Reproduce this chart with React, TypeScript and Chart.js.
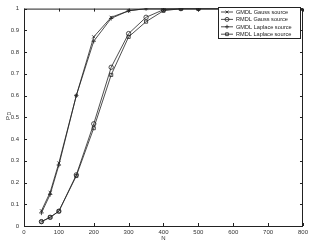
import React, { useEffect, useRef } from "react";
import { Chart, registerables } from "chart.js";
import { drawPoint } from "chart.js/helpers";
Chart.register(...registerables);

const N = [50, 75, 100, 150, 200, 250, 300, 350, 400, 450, 500, 600, 700, 800];
const gmdlGauss = [0.07, 0.155, 0.29, 0.6, 0.87, 0.96, 0.99, 1, 1, 1, 1, 1, 1, 1];
const rmdlGauss = [0.02, 0.04, 0.068, 0.235, 0.47, 0.73, 0.885, 0.96, 0.995, 1, 1, 1, 1, 1];
const gmdlLaplace = [0.06, 0.145, 0.28, 0.6, 0.85, 0.955, 0.99, 1, 1, 1, 1, 1, 1, 1];
const rmdlLaplace = [0.02, 0.04, 0.068, 0.23, 0.45, 0.695, 0.87, 0.94, 0.99, 1, 1, 1, 1, 1];
const seriesNames = ["GMDL Gauss source", "RMDL Gauss source", "GMDL Laplace source", "RMDL Laplace source"];
const xTicks = [0, 100, 200, 300, 400, 500, 600, 700, 800];
const yTicks = [0, 0.1, 0.2, 0.3, 0.4, 0.5, 0.6, 0.7, 0.8, 0.9, 1];
const xLabel = "N";

const FONT = "'Liberation Sans', Arial, sans-serif";

const markers = ["crossRot", "circle", "cross", "rect"];
const seriesData = [gmdlGauss, rmdlGauss, gmdlLaplace, rmdlLaplace];

const boxPlugin = {
  id: "boxPlugin",
  afterDraw(chart: any) {
    const { ctx, chartArea: a, scales } = chart;
    const xs = scales.x, ys = scales.y;
    ctx.save();
    ctx.strokeStyle = "#222";
    ctx.lineWidth = 1;
    ctx.strokeRect(a.left + 0.5, a.top + 0.5, a.right - a.left - 1, a.bottom - a.top);
    ctx.beginPath();
    const tl = 3;
    xTicks.forEach((v) => {
      const p = Math.round(xs.getPixelForValue(v)) + 0.5;
      ctx.moveTo(p, a.bottom); ctx.lineTo(p, a.bottom - tl);
      ctx.moveTo(p, a.top); ctx.lineTo(p, a.top + tl);
    });
    yTicks.forEach((v) => {
      const p = Math.round(ys.getPixelForValue(v)) + 0.5;
      ctx.moveTo(a.left, p); ctx.lineTo(a.left + tl, p);
      ctx.moveTo(a.right, p); ctx.lineTo(a.right - tl, p);
    });
    ctx.stroke();

    // axis titles
    ctx.fillStyle = "#333";
    ctx.font = `6px ${FONT}`;
    ctx.textAlign = "center";
    ctx.textBaseline = "middle";
    ctx.fillText(xLabel, (a.left + a.right) / 2, 238);
    ctx.save();
    ctx.translate(8, 117);
    ctx.rotate(-Math.PI / 2);
    ctx.textAlign = "left";
    ctx.fillText("P", -3, 0);
    ctx.font = `5px ${FONT}`;
    ctx.fillText("D", 1.5, 1.5);
    ctx.restore();

    // legend
    const lx = 218, ly = 7, lw = 82, lh = 31;
    ctx.fillStyle = "#fff";
    ctx.fillRect(lx, ly, lw, lh);
    ctx.strokeStyle = "#222";
    ctx.strokeRect(lx + 0.5, ly + 0.5, lw, lh);
    ctx.font = `5.6px ${FONT}`;
    ctx.textAlign = "left";
    chart.data.datasets.forEach((ds: any, i: number) => {
      const y = ly + 5 + i * 7.4;
      ctx.beginPath();
      ctx.strokeStyle = "#222";
      ctx.lineWidth = 0.8;
      ctx.moveTo(lx + 3, y); ctx.lineTo(lx + 15, y);
      ctx.stroke();
      ctx.fillStyle = "rgba(0,0,0,0)";
      drawPoint(ctx, { pointStyle: ds.pointStyle, radius: 2, borderWidth: 0.8, rotation: 0 } as any, lx + 9, y);
      ctx.fillStyle = "#222";
      ctx.fillText(seriesNames[i], lx + 18, y + 0.5);
    });
    ctx.restore();
  },
};

export default function App() {
  const ref = useRef<HTMLCanvasElement>(null);
  useEffect(() => {
    const chart = new Chart(ref.current!, {
      type: "line",
      data: {
        datasets: seriesData.map((arr, i) => ({
          label: seriesNames[i],
          data: arr.map((v, j) => ({ x: N[j], y: v })),
          borderColor: "#222",
          backgroundColor: "rgba(0,0,0,0)",
          borderWidth: 0.8,
          pointStyle: markers[i],
          pointRadius: 2.2,
          pointBorderWidth: 0.8,
          pointBorderColor: "#222",
          pointBackgroundColor: "rgba(0,0,0,0)",
          tension: 0,
        })),
      },
      options: {
        animation: false,
        responsive: false,
        maintainAspectRatio: false,
        layout: { padding: { top: 5, right: 7, left: 0, bottom: 0 } },
        plugins: { legend: { display: false }, tooltip: { enabled: false } },
        scales: {
          x: {
            type: "linear",
            min: 0,
            max: 800,
            afterBuildTicks: (s: any) => { s.ticks = xTicks.map((v) => ({ value: v })); },
            afterFit: (s: any) => { s.height = 18; },
            grid: { display: false, drawTicks: false },
            border: { display: false },
            ticks: { font: { size: 6, family: FONT }, color: "#333", padding: 3, maxRotation: 0, callback: (v: any) => String(v) },
          },
          y: {
            type: "linear",
            min: 0,
            max: 1,
            afterBuildTicks: (s: any) => { s.ticks = yTicks.map((v) => ({ value: v })); },
            afterFit: (s: any) => { s.width = 24; },
            grid: { display: false, drawTicks: false },
            border: { display: false },
            ticks: { font: { size: 6, family: FONT }, color: "#333", padding: 5, callback: (v: any) => String(Math.round(v * 10) / 10) },
          },
        },
      },
      plugins: [boxPlugin],
    });
    return () => chart.destroy();
  }, []);
  return (
    <div style={{ position: "absolute", left: 0, top: 0, width: 311, height: 244, background: "#fff" }}>
      <canvas ref={ref} width={311} height={244} style={{ display: "block" }} />
    </div>
  );
}
